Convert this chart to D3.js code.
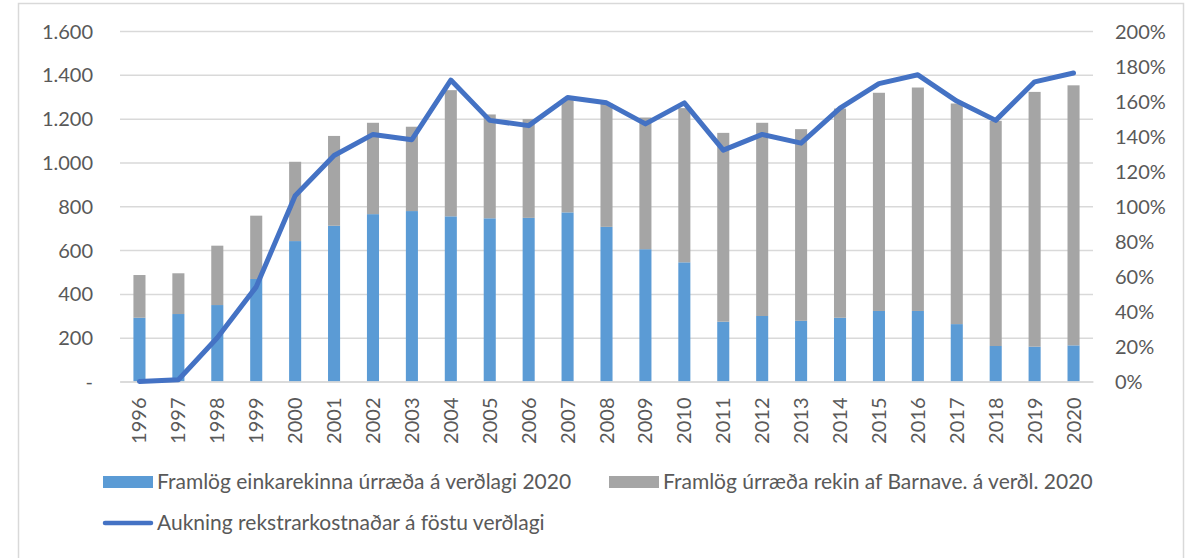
<!DOCTYPE html>
<html lang="is">
    <head>
        <meta charset="utf-8">
        <title>Framlög og rekstrarkostnaður 1996-2020</title>
        <script type="text/javascript" src="https://d3js.org/d3.v7.min.js"></script>
        <style type="text/css">
          html, body {
            margin: 0;
            padding: 0;
            background: #fff;
          }
          svg text {
            font-family: Lato, "Open Sans", sans-serif;
            fill: #595959;
          }
          .tick text {
            font-size: 20px;
          }
          .legend text {
            font-size: 21px;
          }
        </style>
    </head>
    <body>
      <script type="text/javascript">
        // data
        var years = ["1996","1997","1998","1999","2000","2001","2002","2003","2004","2005","2006","2007","2008",
                     "2009","2010","2011","2012","2013","2014","2015","2016","2017","2018","2019","2020"];
        // blue part: private (einkarekin) contributions
        var einkarekin = [291, 308, 349, 468, 641, 711, 764, 778, 754, 745, 747, 772, 706,
                          604, 544, 273, 299, 277, 291, 322, 322, 262, 162, 159, 165];
        // grey part: run by Barnaverndarstofa (bar total minus blue part)
        var barnave = [195, 186, 271, 289, 362, 410, 417, 385, 576, 474, 451, 518, 563,
                       601, 704, 862, 882, 875, 955, 996, 1020, 1007, 1028, 1163, 1187];
        // line: increase of running cost, percent
        var aukning = [0, 1, 25, 54, 106, 129, 141, 138, 172, 149, 146, 162, 159,
                       147, 159, 132, 141, 136, 156, 170, 175, 160, 149, 171, 176];
        var leftTicks = [0, 200, 400, 600, 800, 1000, 1200, 1400, 1600];
        var rightTicks = [0, 20, 40, 60, 80, 100, 120, 140, 160, 180, 200];
        var legendLabels = ["Framlög einkarekinna úrræða á verðlagi 2020",
                            "Framlög úrræða rekin af Barnave. á verðl. 2020",
                            "Aukning rekstrarkostnaðar á föstu verðlagi"];

        var w = 1194, h = 558;
        var plot = {left: 120, right: 1093, top: 31, bottom: 381.5};

        var svg = d3.select("body")
          .append("svg")
          .attr("width", w)
          .attr("height", h);

        // outer frame of the chart
        svg.append("rect")
          .attr("x", 18.5).attr("y", 3.5)
          .attr("width", 1165).attr("height", 600)
          .attr("fill", "none")
          .attr("stroke", "#d9d9d9")
          .attr("stroke-width", 1.5);

        var x = d3.scaleBand()
          .domain(years)
          .range([plot.left, plot.right])
          .paddingInner(0.69)
          .paddingOuter(0.345);

        var y = d3.scaleLinear().domain([0, 1600]).range([plot.bottom, plot.top]);
        var y2 = d3.scaleLinear().domain([0, 200]).range([plot.bottom, plot.top]);

        // left axis with gridlines
        var yAxis = d3.axisLeft(y)
          .tickValues(leftTicks)
          .tickSize(-(plot.right - plot.left))
          .tickPadding(27)
          .tickFormat(function(d) {
            if (d === 0) return "-";
            return d3.format(",")(d).replace(/,/g, ".");
          });

        var gy = svg.append("g")
          .attr("transform", "translate(" + plot.left + ",0)")
          .call(yAxis);
        gy.select(".domain").remove();
        gy.selectAll(".tick line").attr("stroke", "#d9d9d9").attr("stroke-width", 1.5);
        gy.selectAll(".tick text").attr("dy", "0.35em");

        // right axis (percent), no lines
        var yAxis2 = d3.axisRight(y2)
          .tickValues(rightTicks)
          .tickSize(0)
          .tickPadding(22)
          .tickFormat(function(d) { return d + "%"; });

        var gy2 = svg.append("g")
          .attr("transform", "translate(" + plot.right + ",0)")
          .call(yAxis2);
        gy2.select(".domain").remove();
        gy2.selectAll(".tick text").attr("dy", "0.35em");

        // stacked bars
        var stackData = years.map(function(yr, i) {
          return {year: yr, eink: einkarekin[i], barn: barnave[i]};
        });
        var series = d3.stack().keys(["eink", "barn"])(stackData);
        var colors = {eink: "#5b9bd5", barn: "#a5a5a5"};

        svg.append("g")
          .selectAll("g")
          .data(series)
          .enter()
          .append("g")
          .attr("fill", function(s) { return colors[s.key]; })
          .selectAll("rect")
          .data(function(s) { return s; })
          .enter()
          .append("rect")
          .attr("x", function(d) { return x(d.data.year); })
          .attr("width", x.bandwidth())
          .attr("y", function(d) { return y(d[1]); })
          .attr("height", function(d) { return y(d[0]) - y(d[1]); });

        // x axis (baseline + rotated year labels)
        var xAxis = d3.axisBottom(x).tickSize(0).tickPadding(16);
        var gx = svg.append("g")
          .attr("transform", "translate(0," + plot.bottom + ")")
          .call(xAxis);
        gx.select(".domain").attr("stroke", "#d9d9d9").attr("stroke-width", 1.5);
        gx.selectAll(".tick text")
          .attr("transform", "rotate(-90)")
          .attr("text-anchor", "end")
          .attr("x", -16)
          .attr("y", 0)
          .attr("dy", "0.35em");

        // the line, on the right axis
        var line = d3.line()
          .x(function(d, i) { return x(years[i]) + x.bandwidth() / 2; })
          .y(function(d) { return y2(d); });

        svg.append("path")
          .datum(aukning)
          .attr("d", line)
          .attr("fill", "none")
          .attr("stroke", "#4472c4")
          .attr("stroke-width", 5)
          .attr("stroke-linejoin", "round")
          .attr("stroke-linecap", "round");

        // legend
        var legend = svg.append("g").attr("class", "legend");
        var legendItems = [
          {label: legendLabels[0], type: "rect", color: colors.eink, x: 103, y: 482},
          {label: legendLabels[1], type: "rect", color: colors.barn, x: 609, y: 482},
          {label: legendLabels[2], type: "line", color: "#4472c4", x: 103, y: 523}
        ];
        legendItems.forEach(function(it) {
          if (it.type === "rect") {
            legend.append("rect")
              .attr("x", it.x).attr("y", it.y - 6)
              .attr("width", 50).attr("height", 12)
              .attr("fill", it.color);
          } else {
            legend.append("line")
              .attr("x1", it.x + 2).attr("x2", it.x + 48)
              .attr("y1", it.y).attr("y2", it.y)
              .attr("stroke", it.color)
              .attr("stroke-width", 4.5)
              .attr("stroke-linecap", "round");
          }
          legend.append("text")
            .attr("x", it.x + 54)
            .attr("y", it.y)
            .attr("dy", "0.35em")
            .text(it.label);
        });
      </script>
    </body>
</html>
